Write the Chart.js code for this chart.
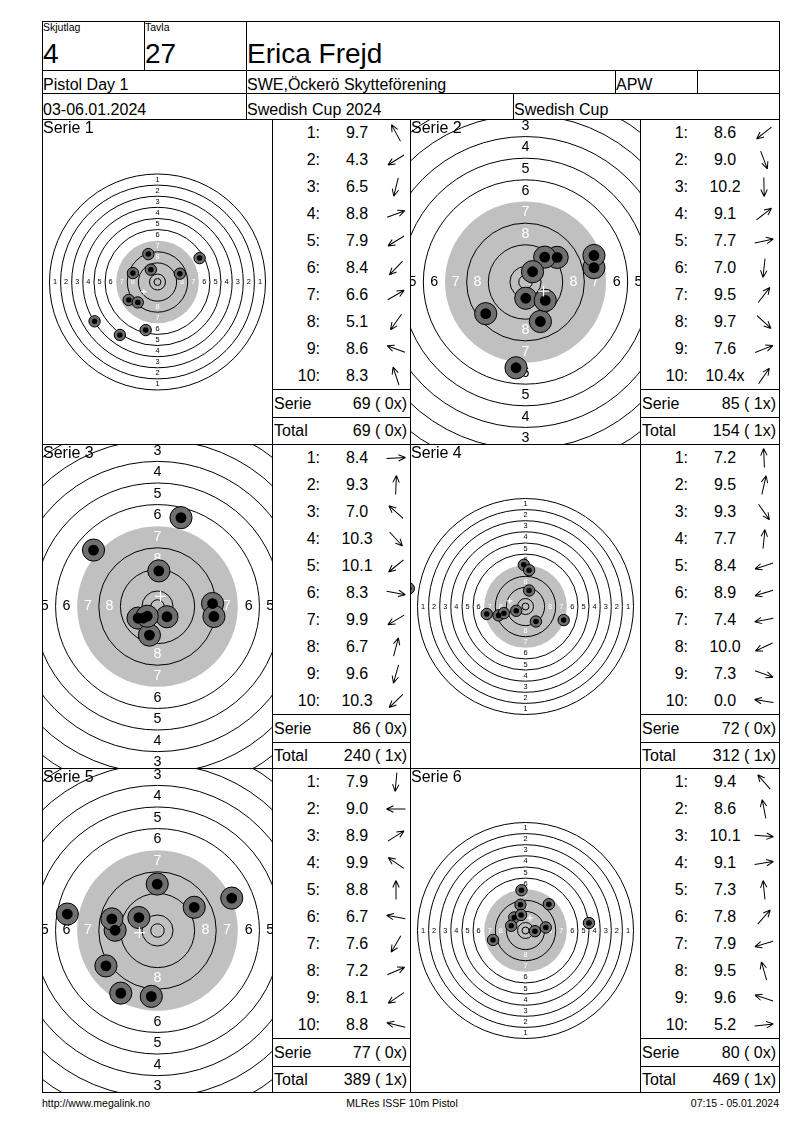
<!DOCTYPE html>
<html>
<head>
<meta charset="utf-8">
<script src="https://cdn.jsdelivr.net/npm/chart.js@4.4.0/dist/chart.umd.min.js"></script>
<style>
    body { margin: 0; background: #fff; font-family: "Liberation Sans", Arial, sans-serif; color: #000; }
    #page { position: relative; width: 800px; height: 1130px; overflow: hidden; }
    .ln { position: absolute; background: #000; }
    .t { position: absolute; white-space: nowrap; line-height: 1.15; z-index: 2; }
    .tgt { position: absolute; }
    .lrow { position: absolute; height: 27px; line-height: 27px; font-size: 16px; white-space: nowrap; }
</style>
</head>
<body>
<div id="page"></div>
<script>
// shot positions in mm from target centre (x right, y up), scores as printed
const seriesTitles = ['Serie 1', 'Serie 2', 'Serie 3', 'Serie 4', 'Serie 5', 'Serie 6'];

const serie1X = [-4.8, -45.3, -8.5, 16.1, -20.7, -14.2, 30.3, -27.1, -17.7, -6.6];
const serie1Y = [8.9, -28.3, -34.6, 6.0, -12.9, -14.7, 17.2, -38.1, 6.4, 20.1];
const serie1Scores = ['9.7', '4.3', '6.5', '8.8', '7.9', '8.4', '6.6', '5.1', '8.6', '8.3'];

const serie2X = [-14.7, 5.5, 0.1, 11.7, 25.3, -3.5, 7.1, 7.3, 25.3, 2.6];
const serie2Y = [-11.7, -14.6, -6.0, 9.1, 5.3, -31.7, 9.2, -6.8, 9.8, 3.8];
const serie2Scores = ['8.6', '9.0', '10.2', '9.1', '7.7', '7.0', '9.5', '9.7', '7.6', '10.4x'];

const serie3X = [20.4, 0.5, -23.7, 3.5, -5.3, 20.9, -7.2, 8.7, -3.0, -3.8];
const serie3Y = [1.1, 13.2, 20.9, -3.8, -4.3, -3.7, -4.3, 32.9, -10.6, -3.6];
const serie3Scores = ['8.4', '9.3', '7.0', '10.3', '10.1', '8.3', '9.9', '6.7', '9.6', '10.3'];

const serie4X = [-1.2, 2.6, 7.5, 2.6, -19.4, -15.6, -27.9, -6.7, 27.5, -84.0];
const serie4Y = [30.0, 11.5, -10.8, 26.1, -6.4, -4.8, -5.4, -3.1, -9.8, 13.0];
const serie4Scores = ['7.2', '9.5', '9.3', '7.7', '8.4', '8.9', '7.4', '10.0', '7.3', '0.0'];

const serie5X = [-2.3, -15.7, 13.6, -6.9, -0.1, -33.4, -13.6, 27.5, -19.1, -16.9];
const serie5Y = [-24.4, 0.1, 8.6, 4.8, 17.2, 6.1, -23.2, 12.0, -13.1, 4.3];
const serie5Scores = ['7.9', '9.0', '8.9', '9.9', '8.8', '6.7', '7.6', '7.2', '8.1', '8.8'];

const serie6X = [-8.1, -3.6, 6.8, 14.6, -2.9, 16.8, -23.4, -3.2, -10.3, 45.7];
const serie6Y = [9.4, 18.5, -0.5, 2.2, 29.0, 18.9, -6.8, 11.2, 3.4, 5.4];
const serie6Scores = ['9.4', '8.6', '10.1', '9.1', '7.3', '7.8', '7.9', '9.5', '9.6', '5.2'];

const serieSums = ['69 ( 0x)', '85 ( 1x)', '86 ( 0x)', '72 ( 0x)', '77 ( 0x)', '80 ( 0x)'];
const totalSums = ['69 ( 0x)', '154 ( 1x)', '240 ( 1x)', '312 ( 1x)', '389 ( 1x)', '469 ( 1x)'];

// 10m air pistol target, ring 1..10 outer radius in mm, plus inner ten
const ringNumbers = [1, 2, 3, 4, 5, 6, 7, 8, 9, 10];
const ringOuterRadii = [77.75, 69.75, 61.75, 53.75, 45.75, 37.75, 29.75, 21.75, 13.75, 5.75];
const innerTenRadius = 2.5;
const labelledRings = [1, 2, 3, 4, 5, 6, 7, 8];

const seriesX = [serie1X, serie2X, serie3X, serie4X, serie5X, serie6X];
const seriesY = [serie1Y, serie2Y, serie3Y, serie4Y, serie5Y, serie6Y];
const seriesScores = [serie1Scores, serie2Scores, serie3Scores, serie4Scores, serie5Scores, serie6Scores];

// layout
const pxPerMmView = [1.389, 2.706, 2.7, 1.389, 2.7, 1.389];
const rowTops = [119, 444, 768, 1092];
const targetLeft = [43, 411];
const listLeft = [272, 640];
const listRight = [410, 779];

const page = document.getElementById('page');

function box(cls, x, y, w, h) {
    let d = document.createElement('div');
    d.className = cls;
    d.style.left = x + 'px';
    d.style.top = y + 'px';
    d.style.width = w + 'px';
    d.style.height = h + 'px';
    page.appendChild(d);
    return d;
}
function hline(x1, x2, y) { box('ln', x1, y, x2 - x1 + 1, 1); }
function vline(x, y1, y2) { box('ln', x, y1, 1, y2 - y1 + 1); }

function text(str, x, baseline, size, align) {
    let d = document.createElement('div');
    d.className = 't';
    d.textContent = str;
    d.style.fontSize = size + 'px';
    d.style.top = (baseline - 0.92 * size) + 'px';
    if (align === 'right') {
        d.style.right = (800 - x) + 'px';
    } else if (align === 'center') {
        d.style.left = (x - 200) + 'px';
        d.style.width = '400px';
        d.style.textAlign = 'center';
    } else {
        d.style.left = x + 'px';
    }
    page.appendChild(d);
    return d;
}

// header
hline(42, 779, 21);
hline(42, 779, 70);
hline(42, 779, 93);
hline(42, 779, 119);
vline(42, 21, 1092);
vline(779, 21, 1092);
vline(144, 21, 70);
vline(246, 21, 119);
vline(615, 70, 93);
vline(697, 70, 93);
vline(513, 93, 119);

text('Skjutlag', 43, 31, 10.5);
text('Tavla', 145, 31, 10.5);
text('4', 43, 63.5, 28);
text('27', 145, 63.5, 28);
text('Erica Frejd', 247, 63.5, 28);
text('Pistol Day 1', 43, 91, 16);
text('SWE,Öckerö Skytteförening', 247, 91, 16);
text('APW', 616, 91, 16);
text('03-06.01.2024', 43, 115.5, 16);
text('Swedish Cup 2024', 247, 115.5, 16);
text('Swedish Cup', 514, 115.5, 16);

// panel grid
rowTops.forEach(y => hline(42, 779, y));
vline(272, 119, 1092);
vline(410, 119, 1092);
vline(640, 119, 1092);

text('http://www.megalink.no', 42, 1106.5, 10.5);
text('MLRes ISSF 10m Pistol', 402, 1106.5, 10.5, 'center');
text('07:15 - 05.01.2024', 779, 1106.5, 10.5, 'right');

function pxPerMm(chart) {
    let s = chart.scales.x;
    return s.getPixelForValue(1) - s.getPixelForValue(0);
}

const ringLabelPlugin = {
    id: 'ringLabels',
    afterDatasetDraw(chart, args) {
        if (chart.data.datasets[args.index].role !== 'rings') return;
        let mm = pxPerMm(chart);
        let cx = chart.scales.x.getPixelForValue(0);
        let cy = chart.scales.y.getPixelForValue(0);
        let c = chart.ctx, a = chart.chartArea;
        c.save();
        c.beginPath();
        c.rect(a.left, a.top, a.right - a.left, a.bottom - a.top);
        c.clip();
        c.font = (5.3 * mm).toFixed(1) + 'px "Liberation Sans", Arial, sans-serif';
        c.textAlign = 'center';
        c.textBaseline = 'middle';
        labelledRings.forEach(n => {
            let r = (ringOuterRadii[n - 1] - 4) * mm;
            c.fillStyle = n <= 6 ? '#000' : '#fff';
            c.fillText(String(n), cx, cy - r);
            c.fillText(String(n), cx, cy + r);
            c.fillText(String(n), cx - r, cy);
            c.fillText(String(n), cx + r, cy);
        });
        c.restore();
    }
};

function drawTarget(i) {
    let row = Math.floor(i / 2), col = i % 2;
    let top = rowTops[row] + 1;
    let h = rowTops[row + 1] - rowTops[row] - 1;
    let w = 229;
    let holder = box('tgt', targetLeft[col], top, w, h);
    let cv = document.createElement('canvas');
    holder.appendChild(cv);

    let xs = seriesX[i], ys = seriesY[i];
    let shots = xs.map((x, k) => ({x: x, y: ys[k]}));
    let mean = {
        x: xs.reduce((a, b) => a + b, 0) / xs.length,
        y: ys.reduce((a, b) => a + b, 0) / ys.length
    };
    let lineRadii = ringOuterRadii.concat([innerTenRadius]);
    let halfW = (w / 2) / pxPerMmView[i];
    let halfH = (h / 2) / pxPerMmView[i];

    new Chart(cv.getContext('2d'), {
        type: 'scatter',
        data: {
            datasets: [
                {
                    data: [mean], pointStyle: 'cross', order: 0,
                    pointRadius: c => 2 * pxPerMm(c.chart),
                    borderColor: '#fff', borderWidth: 1.2
                },
                {
                    data: shots, order: 1,
                    pointRadius: c => 2 * pxPerMm(c.chart),
                    backgroundColor: '#000', borderWidth: 0
                },
                {
                    data: shots, order: 2,
                    pointRadius: c => 4.1 * pxPerMm(c.chart),
                    backgroundColor: '#6f6f6f', borderColor: '#000', borderWidth: 1
                },
                {
                    role: 'rings', order: 3,
                    data: lineRadii.map(() => ({x: 0, y: 0})),
                    pointRadius: c => lineRadii[c.dataIndex] * pxPerMm(c.chart),
                    backgroundColor: 'rgba(0,0,0,0)',
                    borderColor: c => (c.dataIndex === ringNumbers.indexOf(7) ? 'rgba(0,0,0,0)' : '#000'),
                    borderWidth: 1
                },
                {
                    data: [{x: 0, y: 0}], order: 4,
                    pointRadius: c => ringOuterRadii[ringNumbers.indexOf(7)] * pxPerMm(c.chart),
                    backgroundColor: '#c0c0c0', borderWidth: 0
                }
            ]
        },
        options: {
            responsive: true,
            maintainAspectRatio: false,
            animation: false,
            events: [],
            layout: { padding: 0 },
            plugins: {
                legend: { display: false },
                tooltip: { enabled: false }
            },
            scales: {
                x: { type: 'linear', min: -halfW, max: halfW, display: false },
                y: { type: 'linear', min: -halfH, max: halfH, display: false }
            }
        },
        plugins: [ringLabelPlugin]
    });

    text(seriesTitles[i], targetLeft[col], rowTops[row] + 15, 16);
}

function arrowSvg(x, y) {
    let deg = -Math.atan2(y, x) * 180 / Math.PI;
    return '<svg width="26" height="26" viewBox="-13 -13 26 26" style="position:absolute;left:-13px;top:0.5px">' +
        '<path d="M-9.5 0H9.5M9.5 0L2.5 -3.2M9.5 0L2.5 3.2" transform="rotate(' + deg.toFixed(1) + ')" ' +
        'stroke="#000" stroke-width="1" fill="none"/></svg>';
}

function drawList(i) {
    let row = Math.floor(i / 2), col = i % 2;
    let T = rowTops[row];
    let L = listLeft[col], R = listRight[col];
    hline(L, R, T + 270);
    hline(L, R, T + 298);
    seriesScores[i].forEach((s, k) => {
        let y = T + 27 * k;
        let n = box('lrow', L, y, 48, 27);
        n.style.textAlign = 'right';
        n.textContent = (k + 1) + ':';
        let v = box('lrow', L + 55, y, 60, 27);
        v.style.textAlign = 'center';
        v.textContent = s;
        let a = box('lrow', L + 124, y, 1, 27);
        a.innerHTML = arrowSvg(seriesX[i][k], seriesY[i][k]);
    });
    let s1 = box('lrow', L + 2, T + 271, R - L - 5, 27);
    s1.innerHTML = '<span style="float:left">Serie</span><span style="float:right">' + serieSums[i] + '</span>';
    let s2 = box('lrow', L + 2, T + 298, R - L - 5, 27);
    s2.innerHTML = '<span style="float:left">Total</span><span style="float:right">' + totalSums[i] + '</span>';
}

for (let i = 0; i < 6; i++) {
    drawTarget(i);
    drawList(i);
}
</script>
</body>
</html>
